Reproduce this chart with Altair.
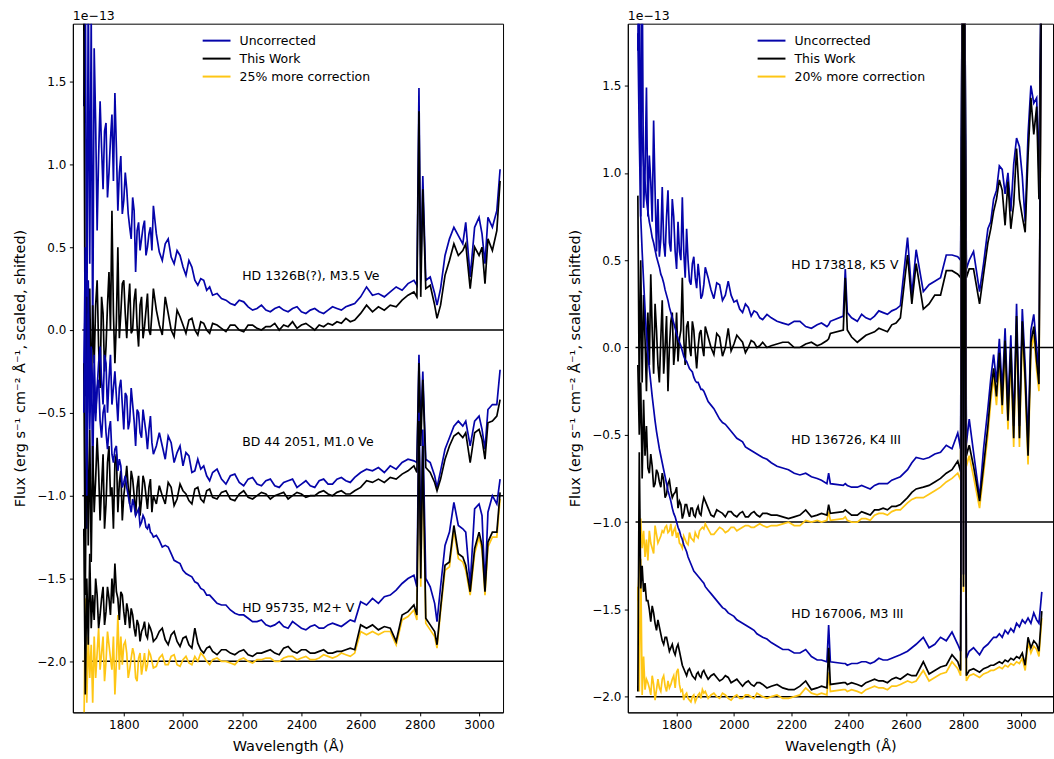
import altair as alt
import pandas as pd

# ---------------- Left panel (M dwarfs) ----------------
LX = [1665, 1670, 1675, 1680, 1685, 1690, 1695, 1700,
      1710, 1720, 1730, 1740, 1750, 1760, 1770, 1780, 1790, 1800,
      1810, 1820, 1830, 1840, 1850, 1860, 1870, 1880, 1890, 1900,
      1920, 1940, 1960, 1980, 2000, 2020, 2040, 2060, 2080, 2100,
      2130, 2160, 2190, 2220, 2250, 2280, 2310, 2340, 2370, 2400,
      2430, 2460, 2490, 2520, 2550, 2580, 2600, 2620, 2640, 2660,
      2680, 2700, 2720, 2740, 2760, 2780, 2790, 2797, 2803, 2810,
      2820, 2835, 2850, 2858, 2870, 2885, 2900, 2915, 2930, 2945,
      2955, 2970, 2985, 3000, 3010, 3020, 3030, 3045, 3060, 3071]
# extra in-between wavelengths for the noisy blue end
LXE = [1705, 1715, 1725, 1735, 1745, 1755, 1765, 1775, 1785, 1795,
       1805, 1815, 1825, 1835, 1845, 1855, 1865, 1875, 1885, 1895,
       1910, 1930, 1950, 1970, 1990, 2010, 2030, 2050, 2070, 2090,
       2115, 2145, 2175, 2205, 2235, 2265, 2295, 2325, 2355, 2385,
       2415, 2445, 2475, 2505, 2535, 2565]

L1_UNC = [1.35, 2.2, -0.2, 2.1, 0.4, 1.9, -0.1, 1.70,
          0.6, 1.38, 0.85, 1.25, 0.95, 1.30, 1.43, 0.72, 1.05, 0.78,
          0.85, 0.62, 0.80, 0.35, 0.65, 0.55, 0.66, 0.50, 0.62, 0.75,
          0.47, 0.52, 0.44, 0.48, 0.38, 0.42, 0.30, 0.31, 0.24, 0.21,
          0.19, 0.16, 0.18, 0.14, 0.13, 0.12, 0.13, 0.12, 0.13, 0.11,
          0.12, 0.11, 0.12, 0.13, 0.14, 0.16, 0.20, 0.26, 0.21, 0.22,
          0.20, 0.23, 0.26, 0.24, 0.28, 0.30, 0.27, 1.46, 0.30, 0.93,
          0.30, 0.32, 0.22, 0.15, 0.25, 0.45, 0.55, 0.62, 0.57, 0.52,
          0.65, 0.32, 0.62, 0.68, 0.58, 0.40, 0.68, 0.62, 0.72, 0.97]
L1_UNC_E = [1.25, 1.05, 1.10, 1.20, 0.80, 1.15, 0.90, 1.10, 0.95, 0.70,
            0.95, 0.70, 0.55, 0.72, 0.60, 0.48, 0.62, 0.45, 0.58, 0.48,
            0.58, 0.42, 0.55, 0.40, 0.45, 0.33, 0.38, 0.27, 0.30, 0.26,
            0.22, 0.18, 0.15, 0.17, 0.12, 0.15, 0.11, 0.14, 0.11, 0.14,
            0.10, 0.13, 0.10, 0.14, 0.12, 0.15]
L1_WORK = [1.9, -0.4, 0.2, -0.3, 0.25, -0.45, 0.15, -0.2,
           0.3, -0.35, 0.1, -0.1, 0.35, 0.72, -0.2, 0.5, 0.1, 0.3,
           -0.05, 0.28, 0.0, 0.25, -0.1, 0.2, 0.02, 0.22, -0.03, 0.25,
           0.03, 0.2, 0.0, 0.12, 0.03, 0.06, 0.0, 0.05, 0.0, 0.04,
           0.01, 0.03, 0.0, 0.03, 0.01, 0.02, 0.04, 0.03, 0.05, 0.03,
           0.02, 0.03, 0.04, 0.05, 0.07, 0.06, 0.10, 0.15, 0.11, 0.14,
           0.12, 0.15, 0.14, 0.18, 0.21, 0.23, 0.20, 1.32, 0.20, 0.85,
           0.25, 0.27, 0.15, 0.07, 0.15, 0.33, 0.42, 0.52, 0.45, 0.48,
           0.52, 0.25, 0.50, 0.45, 0.50, 0.28, 0.55, 0.48, 0.60, 0.90]
L1_WORK_E = [0.15, -0.1, 0.2, -0.25, 0.15, 0.0, 0.1, 0.05, -0.05, 0.28,
             0.1, 0.15, -0.02, 0.18, 0.02, 0.15, -0.05, 0.12, 0.0, 0.1,
             0.12, -0.03, 0.1, -0.04, 0.08, -0.02, 0.07, -0.03, 0.04, -0.02,
             0.03, -0.01, 0.03, -0.01, 0.03, 0.0, 0.02, 0.0, 0.02, 0.01,
             0.04, 0.0, 0.02, 0.03, 0.04, 0.05]
L2_UNC = [-0.3, 0.5, -1.2, 0.3, -0.5, -0.1, -0.9, -0.15,
          -0.35, -0.1, -0.45, -0.2, -0.3, -0.45, -0.25, -0.55, -0.3, -0.6,
          -0.4, -0.55, -0.45, -0.7, -0.5, -0.65, -0.55, -0.72, -0.52, -0.75,
          -0.62, -0.78, -0.68, -0.74, -0.82, -0.76, -0.85, -0.84, -0.88, -0.86,
          -0.90, -0.88, -0.92, -0.90, -0.93, -0.91, -0.94, -0.92, -0.90, -0.93,
          -0.94, -0.91, -0.93, -0.90, -0.91, -0.89, -0.86, -0.84, -0.85, -0.83,
          -0.86, -0.82, -0.84, -0.80, -0.78, -0.79, -0.80, -0.15, -0.6, -0.25,
          -0.78, -0.80, -0.88, -0.95, -0.85, -0.72, -0.65, -0.58, -0.55, -0.58,
          -0.55, -0.70, -0.55, -0.52, -0.60, -0.72, -0.48, -0.45, -0.45, -0.24]
L2_UNC_E = [-0.5, -0.2, -0.3, -0.15, -0.5, -0.15, -0.35, -0.4, -0.35, -0.45,
            -0.38, -0.6, -0.35, -0.55, -0.48, -0.62, -0.48, -0.62, -0.6, -0.68,
            -0.70, -0.70, -0.64, -0.80, -0.70, -0.74, -0.86, -0.78, -0.82, -0.91,
            -0.84, -0.93, -0.87, -0.94, -0.89, -0.94, -0.90, -0.95, -0.91, -0.95,
            -0.91, -0.95, -0.90, -0.93, -0.89, -0.92]
L2_WORK = [-0.2, -1.6, -0.4, -1.3, -0.6, -1.4, -0.7, -1.1,
           -0.65, -1.15, -0.75, -1.05, -0.7, -0.95, -0.8, -1.1, -0.85, -1.0,
           -0.82, -1.05, -0.9, -1.12, -0.88, -1.02, -0.92, -1.08, -0.9, -1.0,
           -0.94, -1.05, -0.95, -1.02, -0.97, -1.03, -0.96, -1.02, -0.97, -1.01,
           -0.98, -1.02, -0.99, -1.01, -1.0, -0.99, -1.0, -0.98, -1.0, -0.99,
           -1.0, -0.98, -0.99, -0.98, -0.99, -0.97, -0.95, -0.91, -0.92, -0.90,
           -0.92, -0.89, -0.90, -0.87, -0.85, -0.82, -0.86, -0.2, -0.7, -0.3,
           -0.83, -0.86, -0.92, -0.97, -0.90, -0.78, -0.70, -0.64, -0.62, -0.65,
           -0.62, -0.80, -0.62, -0.60, -0.66, -0.78, -0.56, -0.55, -0.52, -0.42]
L2_WORK_E = [-0.9, -0.85, -0.95, -1.2, -0.8, -1.0, -1.2, -0.75, -0.92, -1.15,
             -0.92, -0.95, -0.85, -1.0, -0.95, -1.12, -0.88, -1.0, -0.95, -1.1,
             -1.05, -1.0, -0.92, -1.06, -0.93, -0.99, -1.05, -0.95, -1.04, -0.96,
             -1.02, -0.97, -1.03, -0.97, -1.02, -0.98, -1.02, -0.99, -1.02, -0.98,
             -1.01, -1.0, -0.97, -1.0, -0.97, -0.99]
L3_UNC = [-0.5, 0.3, -1.0, 0.1, -0.6, -0.2, -0.3, -0.45,
          -0.35, -0.55, -0.5, -0.62, -0.6, -0.75, -0.72, -0.85, -0.82, -0.92,
          -0.95, -1.05, -1.02, -1.12, -1.08, -1.16, -1.14, -1.20, -1.22, -1.25,
          -1.27, -1.30, -1.35, -1.40, -1.45, -1.48, -1.52, -1.56, -1.60, -1.62,
          -1.66, -1.69, -1.72, -1.74, -1.76, -1.78, -1.78, -1.79, -1.76, -1.80,
          -1.79, -1.80, -1.78, -1.78, -1.77, -1.76, -1.64, -1.66, -1.62, -1.65,
          -1.61, -1.60, -1.57, -1.53, -1.50, -1.48, -1.55, -0.5, -1.3, -0.6,
          -1.50, -1.55, -1.65, -1.76, -1.55, -1.30, -1.22, -1.04, -1.18, -1.20,
          -1.22, -1.54, -1.08, -1.05, -1.12, -1.55, -1.10, -1.00, -1.05, -0.90]
L3_UNC_E = [-0.55, -0.3, -0.65, -0.45, -0.72, -0.55, -0.8, -0.7, -0.78, -0.95,
            -0.88, -1.0, -1.1, -1.06, -1.1, -1.18, -1.12, -1.19, -1.17, -1.23,
            -1.24, -1.31, -1.31, -1.39, -1.41, -1.47, -1.49, -1.53, -1.57, -1.60,
            -1.65, -1.66, -1.71, -1.72, -1.76, -1.75, -1.79, -1.76, -1.80, -1.78,
            -1.81, -1.78, -1.80, -1.77, -1.79, -1.75]
L3_WORK = [-1.2, -2.2, -1.5, -1.9, -1.35, -1.8, -1.6, -1.75,
           -1.6, -1.72, -1.55, -1.70, -1.62, -1.50, -1.41, -1.62, -1.58, -1.70,
           -1.65, -1.80, -1.72, -1.85, -1.78, -1.82, -1.76, -1.86, -1.80, -1.88,
           -1.82, -1.87, -1.84, -1.88, -1.86, -1.90, -1.80, -1.93, -1.92, -1.94,
           -1.93, -1.95, -1.94, -1.96, -1.95, -1.94, -1.95, -1.92, -1.94, -1.93,
           -1.95, -1.94, -1.95, -1.94, -1.93, -1.93, -1.78, -1.80, -1.78, -1.81,
           -1.79, -1.80, -1.88, -1.72, -1.70, -1.66, -1.72, -0.55, -1.5, -0.7,
           -1.74, -1.78, -1.82, -1.90, -1.68, -1.42, -1.40, -1.18, -1.35, -1.37,
           -1.42, -1.58, -1.32, -1.22, -1.30, -1.58, -1.28, -1.22, -1.22, -0.98]
L3_WORK_E = [-1.5, -1.8, -1.62, -1.78, -1.55, -1.72, -1.65, -1.58, -1.75, -1.6,
             -1.78, -1.70, -1.68, -1.80, -1.75, -1.88, -1.80, -1.84, -1.78, -1.83,
             -1.86, -1.80, -1.90, -1.82, -1.91, -1.85, -1.92, -1.89, -1.95, -1.91,
             -1.96, -1.93, -1.96, -1.93, -1.97, -1.95, -1.93, -1.96, -1.91, -1.95,
             -1.93, -1.95, -1.93, -1.95, -1.94, -1.92]
L3_MORE = [-2.5, -1.62, -2.25, -1.85, -2.1, -1.9, -2.25, -1.85,
           -1.95, -2.05, -1.85, -2.0, -1.9, -2.05, -2.2, -1.72, -1.85, -1.9,
           -1.95, -2.05, -1.92, -2.1, -1.98, -2.08, -1.95, -2.02, -1.96, -2.04,
           -1.98, -2.02, -1.97, -2.02, -1.99, -2.01, -1.97, -1.95, -2.0, -1.99,
           -2.0, -2.01, -1.99, -2.0, -1.99, -1.98, -2.0, -1.98, -1.97, -1.98,
           -1.99, -1.98, -1.97, -1.97, -1.96, -1.95, -1.82, -1.84, -1.82, -1.84,
           -1.82, -1.82, -1.90, -1.75, -1.73, -1.69, -1.75, -0.6, -1.55, -0.75,
           -1.77, -1.81, -1.85, -1.92, -1.70, -1.45, -1.43, -1.21, -1.38, -1.40,
           -1.45, -1.60, -1.35, -1.25, -1.33, -1.60, -1.31, -1.25, -1.25, -1.02]
L3_MORE_E = [-2.1, -1.8, -1.95, -2.12, -1.82, -1.98, -1.85, -2.0, -2.05, -2.02,
             -1.88, -2.1, -1.98, -1.96, -2.12, -1.95, -2.02, -2.06, -1.94, -2.0,
             -2.03, -1.96, -2.02, -1.96, -2.03, -1.97, -2.02, -2.0, -1.97, -2.02,
             -1.98, -2.0, -2.02, -1.98, -2.01, -1.99, -1.98, -2.0, -1.97, -1.99,
             -1.97, -1.99, -1.96, -1.98, -1.95, -1.97]

# ---------------- Right panel (K/M giants) ----------------
RX = [1665, 1670, 1675, 1680, 1685, 1690, 1695, 1700,
      1710, 1720, 1730, 1740, 1750, 1760, 1770, 1780, 1790, 1800,
      1810, 1820, 1830, 1840, 1850, 1860, 1870, 1880, 1890, 1900,
      1920, 1940, 1960, 1980, 2000, 2020, 2040, 2060, 2080, 2100,
      2130, 2170, 2210, 2250, 2290, 2324, 2330, 2336, 2381, 2388,
      2395, 2430, 2460, 2490, 2520, 2550, 2580, 2605, 2620, 2635,
      2660, 2680, 2700, 2720, 2740, 2760, 2780, 2790, 2797, 2800,
      2803, 2810, 2820, 2835, 2856, 2870, 2885, 2895, 2905, 2915,
      2925, 2935, 2945, 2955, 2965, 2975, 2985, 2995, 3005, 3015,
      3025, 3035, 3045, 3055, 3063, 3073]
RXE = [1705, 1715, 1725, 1735, 1745, 1755, 1765, 1775, 1785, 1795,
       1805, 1815, 1825, 1835, 1845, 1855, 1865, 1875, 1885, 1895,
       1910, 1930, 1950, 1970, 1990, 2010, 2030, 2050, 2070, 2090,
       2115, 2150, 2190, 2230, 2270, 2305,
       2410, 2445, 2475, 2505, 2535, 2565]

R1_UNC = [1.7, 2.3, 0.75, 2.2, 0.8, 1.0, 1.49, 0.75,
          0.95, 1.30, 0.55, 0.52, 0.92, 0.52, 0.9, 0.55, 0.75, 0.45,
          0.55, 0.86, 0.40, 0.50, 0.36, 0.52, 0.34, 0.40, 0.30, 0.46,
          0.33, 0.37, 0.27, 0.38, 0.26, 0.22, 0.25, 0.18, 0.20, 0.16,
          0.17, 0.14, 0.15, 0.12, 0.13, 0.12, 0.13, 0.15, 0.18, 0.45,
          0.20, 0.15, 0.17, 0.18, 0.20, 0.21, 0.24, 0.63, 0.30, 0.56,
          0.32, 0.36, 0.38, 0.40, 0.53, 0.53, 0.52, 0.50, 2.5, 1.14,
          2.5, 0.45, 0.50, 0.55, 0.32, 0.48, 0.68, 0.72, 0.85, 0.90,
          1.04, 1.02, 0.88, 1.00, 0.78, 1.05, 1.20, 1.15, 0.98, 0.72,
          1.22, 1.50, 1.40, 1.43, 1.00, 2.5]
R1_UNC_E = [1.1, 0.72, 0.9, 0.85, 0.62, 0.6, 0.75, 0.6, 0.85, 0.55,
            0.72, 0.5, 0.55, 0.68, 0.38, 0.48, 0.40, 0.48, 0.28, 0.36,
            0.40, 0.28, 0.36, 0.30, 0.30, 0.27, 0.20, 0.23, 0.21, 0.17,
            0.19, 0.15, 0.13, 0.15, 0.11, 0.14,
            0.17, 0.19, 0.16, 0.21, 0.19, 0.22]
R1_WORK = [0.87, -0.3, 0.5, -0.2, 0.3, 0.05, -0.25, 0.2,
           0.42, -0.15, 0.1, -0.2, 0.27, 0.0, -0.25, 0.15, -0.1, 0.2,
           0.05, 0.40, -0.1, 0.15, -0.05, 0.1, -0.12, 0.08, 0.0, 0.12,
           0.0, 0.08, -0.05, 0.11, 0.02, 0.05, -0.03, 0.04, 0.0, 0.03,
           0.01, 0.03, 0.0, 0.02, 0.01, 0.04, 0.05, 0.08, 0.10, 0.40,
           0.10, 0.03, 0.07, 0.09, 0.10, 0.13, 0.17, 0.53, 0.25, 0.48,
           0.22, 0.25, 0.30, 0.30, 0.44, 0.44, 0.42, 0.40, 2.5, 1.14,
           2.5, 0.40, 0.45, 0.45, 0.25, 0.42, 0.60, 0.68, 0.78, 0.85,
           0.96, 0.90, 0.70, 0.95, 0.68, 0.82, 1.14, 0.85, 0.75, 0.66,
           1.10, 1.43, 1.22, 1.38, 0.85, 2.5]
R1_WORK_E = [-0.1, 0.1, 0.25, -0.1, 0.05, -0.15, 0.18, 0.0, 0.2, 0.0,
             -0.08, 0.1, 0.05, 0.12, 0.0, 0.15, -0.02, 0.0, 0.1, -0.05,
             0.06, -0.04, 0.06, 0.0, -0.02, 0.07, 0.03, 0.0, 0.03, 0.01,
             0.0, 0.02, 0.03, 0.0, 0.03, 0.02,
             0.06, 0.05, 0.08, 0.11, 0.09, 0.14]
R2_UNC = [2.0, 1.6, 1.35, 1.2, 1.05, 0.95, 0.85, 0.78,
          0.68, 0.60, 0.52, 0.46, 0.40, 0.33, 0.27, 0.20, 0.14, 0.08,
          0.03, -0.02, -0.07, -0.10, -0.13, -0.17, -0.20, -0.22, -0.24, -0.27,
          -0.33, -0.38, -0.43, -0.46, -0.50, -0.53, -0.57, -0.59, -0.61, -0.63,
          -0.66, -0.69, -0.72, -0.72, -0.75, -0.78, -0.72, -0.78, -0.79, -0.78,
          -0.79, -0.80, -0.80, -0.79, -0.78, -0.76, -0.74, -0.70, -0.66, -0.63,
          -0.64, -0.63, -0.61, -0.60, -0.56, -0.58, -0.49, -0.58, 2.5, -0.3,
          2.5, -0.55, -0.41, -0.60, -0.86, -0.58, -0.35, -0.18, -0.04, -0.20,
          0.05, -0.25, 0.11, -0.35, 0.07, -0.45, 0.25, -0.45, 0.22, -0.10,
          -0.55, 0.10, 0.19, 0.0, -0.15, 2.5]
R2_UNC_E = [0.72, 0.63, 0.56, 0.49, 0.42, 0.37, 0.30, 0.23, 0.17, 0.11,
            0.05, 0.01, -0.05, -0.08, -0.12, -0.14, -0.19, -0.20, -0.24, -0.25,
            -0.31, -0.35, -0.41, -0.44, -0.48, -0.52, -0.54, -0.58, -0.60, -0.62,
            -0.64, -0.68, -0.70, -0.73, -0.74, -0.76,
            -0.80, -0.79, -0.81, -0.78, -0.78, -0.75]
R2_WORK = [-0.1, -0.5, -0.2, -0.75, -0.3, -0.62, -0.45, -0.69,
           -0.61, -0.80, -0.70, -0.77, -0.72, -0.86, -0.78, -0.82, -0.84, -0.80,
           -0.88, -0.98, -0.90, -0.94, -0.92, -0.96, -0.93, -0.95, -0.90, -0.88,
           -0.96, -0.93, -0.95, -0.94, -0.96, -0.95, -0.97, -0.95, -0.96, -0.95,
           -0.96, -0.97, -0.97, -0.93, -0.96, -0.96, -0.90, -0.95, -0.94, -0.93,
           -0.94, -0.96, -0.95, -0.93, -0.92, -0.91, -0.90, -0.86, -0.83, -0.81,
           -0.80, -0.79, -0.77, -0.75, -0.72, -0.70, -0.65, -0.71, 2.5, -0.4,
           2.5, -0.62, -0.56, -0.68, -0.88, -0.68, -0.45, -0.26, -0.12, -0.28,
           -0.03, -0.33, 0.04, -0.42, 0.0, -0.52, 0.18, -0.52, 0.15, -0.18,
           -0.62, 0.03, 0.12, -0.08, -0.21, 2.5]
R2_WORK_E = [-0.72, -0.68, -0.78, -0.72, -0.80, -0.76, -0.84, -0.76, -0.86, -0.83,
             -0.92, -0.90, -0.95, -0.90, -0.97, -0.92, -0.97, -0.91, -0.96, -0.86,
             -0.92, -0.97, -0.94, -0.97, -0.94, -0.97, -0.94, -0.97, -0.94, -0.97,
             -0.95, -0.96, -0.98, -0.96, -0.97, -0.95,
             -0.96, -0.94, -0.96, -0.93, -0.93, -0.91]
R2_MORE = [-1.45, -1.25, -0.98, -1.15, -1.05, -1.20, -1.10, -1.22,
           -1.12, -1.18, -1.07, -1.10, -1.05, -1.03, -1.06, -1.01, -1.05, -1.09,
           -1.12, -1.15, -1.10, -1.13, -1.09, -1.11, -1.08, -1.05, -1.03, -1.01,
           -1.07, -1.05, -1.04, -1.05, -1.03, -1.04, -1.02, -1.03, -1.02, -1.02,
           -1.02, -1.01, -1.02, -0.99, -0.99, -0.99, -0.94, -0.99, -0.98, -0.97,
           -0.99, -1.0, -0.98, -0.96, -0.95, -0.94, -0.93, -0.89, -0.87, -0.86,
           -0.86, -0.84, -0.82, -0.80, -0.77, -0.75, -0.72, -0.76, 2.5, -0.45,
           2.5, -0.68, -0.62, -0.74, -0.92, -0.72, -0.50, -0.31, -0.17, -0.33,
           -0.08, -0.38, -0.01, -0.47, -0.05, -0.57, 0.13, -0.57, 0.10, -0.23,
           -0.67, -0.02, 0.07, -0.13, -0.25, 2.5]
R2_MORE_E = [-1.05, -1.15, -1.02, -1.12, -1.08, -1.06, -1.02, -1.05, -1.08, -1.03,
             -1.06, -1.13, -1.08, -1.12, -1.06, -1.10, -1.06, -1.09, -1.04, -1.04,
             -1.04, -1.07, -1.03, -1.06, -1.03, -1.05, -1.03, -1.02, -1.03, -1.01,
             -1.03, -1.02, -1.00, -1.02, -1.00, -1.00,
             -1.00, -0.98, -0.99, -0.95, -0.96, -0.93]
R3_UNC = [1.8, 1.2, 0.75, 0.55, 0.38, 0.22, 0.08, -0.04,
          -0.2, -0.35, -0.48, -0.58, -0.66, -0.74, -0.82, -0.88, -0.95, -1.0,
          -1.05, -1.10, -1.15, -1.20, -1.24, -1.28, -1.30, -1.32, -1.34, -1.37,
          -1.41, -1.45, -1.49, -1.52, -1.54, -1.57, -1.59, -1.61, -1.64, -1.66,
          -1.69, -1.73, -1.75, -1.73, -1.79, -1.80, -1.59, -1.80, -1.81, -1.81,
          -1.82, -1.81, -1.80, -1.80, -1.79, -1.78, -1.76, -1.74, -1.72, -1.70,
          -1.66, -1.72, -1.70, -1.66, -1.68, -1.63, -1.70, -1.74, 2.5, -1.3,
          2.5, -1.78, -1.74, -1.72, -1.76, -1.72, -1.70, -1.68, -1.66, -1.66,
          -1.64, -1.66, -1.62, -1.64, -1.61, -1.63, -1.58, -1.60, -1.56, -1.58,
          -1.55, -1.58, -1.52, -1.56, -1.58, -1.40]
R3_UNC_E = [-0.12, -0.28, -0.42, -0.53, -0.62, -0.70, -0.78, -0.85, -0.92, -0.97,
            -1.03, -1.08, -1.13, -1.17, -1.22, -1.26, -1.29, -1.31, -1.33, -1.35,
            -1.39, -1.43, -1.47, -1.50, -1.53, -1.56, -1.58, -1.60, -1.62, -1.65,
            -1.67, -1.71, -1.73, -1.75, -1.77, -1.79,
            -1.81, -1.80, -1.81, -1.78, -1.79, -1.77]
R3_WORK = [-1.97, -0.6, -1.38, -1.25, -1.40, -1.35, -1.45, -1.45,
           -1.57, -1.52, -1.62, -1.60, -1.68, -1.66, -1.70, -1.72, -1.74, -1.72,
           -1.74, -1.82, -1.86, -1.85, -1.86, -1.89, -1.87, -1.88, -1.86, -1.87,
           -1.88, -1.89, -1.90, -1.89, -1.91, -1.92, -1.92, -1.93, -1.92, -1.93,
           -1.94, -1.95, -1.96, -1.91, -1.95, -1.95, -1.72, -1.93, -1.92, -1.92,
           -1.93, -1.93, -1.92, -1.90, -1.91, -1.90, -1.90, -1.87, -1.88, -1.88,
           -1.80, -1.87, -1.85, -1.83, -1.82, -1.76, -1.80, -1.85, 2.5, -1.37,
           2.5, -1.88, -1.85, -1.84, -1.86, -1.84, -1.83, -1.82, -1.82, -1.81,
           -1.80, -1.81, -1.79, -1.80, -1.78, -1.79, -1.77, -1.78, -1.75, -1.82,
           -1.66, -1.72, -1.68, -1.70, -1.74, -1.51]
R3_WORK_E = [-1.50, -1.48, -1.58, -1.56, -1.64, -1.70, -1.66, -1.74, -1.70, -1.76,
             -1.70, -1.78, -1.84, -1.88, -1.84, -1.88, -1.90, -1.86, -1.89, -1.85,
             -1.90, -1.87, -1.91, -1.88, -1.92, -1.90, -1.94, -1.91, -1.94, -1.92,
             -1.95, -1.93, -1.96, -1.94, -1.96, -1.94,
             -1.92, -1.94, -1.91, -1.91, -1.92, -1.89]
R3_MORE = [-1.37, -1.97, -1.21, -1.99, -1.77, -1.96, -1.90, -1.92,
           -1.99, -1.93, -1.96, -1.95, -1.90, -1.94, -1.91, -1.93, -1.88, -1.86,
           -1.93, -1.96, -1.99, -2.01, -2.03, -1.99, -2.01, -1.98, -1.96, -1.97,
           -1.99, -2.00, -1.98, -2.01, -2.00, -2.01, -1.99, -2.00, -1.98, -2.00,
           -2.00, -2.01, -2.00, -1.95, -1.99, -1.99, -1.86, -1.97, -1.96, -1.96,
           -1.97, -1.97, -1.96, -1.94, -1.95, -1.94, -1.93, -1.91, -1.92, -1.91,
           -1.85, -1.91, -1.89, -1.87, -1.86, -1.80, -1.84, -1.88, 2.5, -1.40,
           2.5, -1.91, -1.88, -1.87, -1.89, -1.87, -1.86, -1.85, -1.85, -1.84,
           -1.83, -1.84, -1.82, -1.83, -1.81, -1.82, -1.80, -1.81, -1.78, -1.85,
           -1.69, -1.75, -1.71, -1.73, -1.77, -1.55]
R3_MORE_E = [-1.95, -1.88, -2.02, -1.90, -1.97, -1.88, -1.97, -1.95, -1.90, -1.95,
             -1.84, -1.97, -2.02, -1.98, -2.02, -2.00, -2.03, -1.99, -2.01, -1.98,
             -2.01, -1.98, -2.01, -1.99, -2.02, -1.99, -2.01, -1.99, -2.01, -1.99,
             -2.01, -1.99, -2.01, -1.99, -1.98, -1.98,
             -1.96, -1.98, -1.95, -1.95, -1.96, -1.94]

# ---------------- Labels / annotations ----------------
LEFT_NAMES = ["HD 1326B(?), M3.5 Ve", "BD 44 2051, M1.0 Ve", "HD 95735, M2+ V"]
LEFT_NAME_Y = [0.3, -0.7, -1.7]
RIGHT_NAMES = ["HD 173818, K5 V", "HD 136726, K4 III", "HD 167006, M3 III"]
RIGHT_NAME_Y = [0.45, -0.55, -1.55]
NAME_X = 2200
LEVELS = [0.0, -1.0, -2.0]
KINDS_LEFT = ["Uncorrected", "This Work", "25% more correction"]
KINDS_RIGHT = ["Uncorrected", "This Work", "20% more correction"]
COLORS = ["#0504aa", "#000000", "#fec615"]
XTICKS = [1800, 2000, 2200, 2400, 2600, 2800, 3000]
YTICKS = [-2.0, -1.5, -1.0, -0.5, 0.0, 0.5, 1.0, 1.5]
YTITLE = "Flux (erg s\u207b\u00b9 cm\u207b\u00b2 \u00c5\u207b\u00b9, scaled, shifted)"
XTITLE = "Wavelength (\u00c5)"
FONT = "DejaVu Sans"


def panel(xs, xe, stars, xdom, ydom, width, kinds, rule_x0, names, name_y):
    xscale = alt.Scale(domain=xdom, nice=False, zero=False)
    yscale = alt.Scale(domain=ydom, nice=False, zero=False)
    cscale = alt.Scale(domain=kinds, range=COLORS)
    xaxis = alt.Axis(values=XTICKS, format="d", title=XTITLE)
    yaxis = alt.Axis(values=YTICKS, format=".1f", title=YTITLE)
    legend = alt.Legend(title=None, orient="none", legendX=134, legendY=7,
                        symbolType="M-1.55,0L1.55,0", symbolSize=324,
                        symbolStrokeWidth=2, labelFontSize=12.5, labelFont=FONT,
                        labelColor="black", labelOffset=13, rowPadding=1,
                        padding=0)
    layers = []
    rules = pd.DataFrame({"level": LEVELS, "x0": rule_x0, "x1": 3400})
    layers.append(
        alt.Chart(rules).mark_rule(clip=True, color="black", strokeWidth=1.5).encode(
            x=alt.X("x0:Q", scale=xscale, axis=xaxis),
            x2="x1:Q",
            y=alt.Y("level:Q", scale=yscale, axis=yaxis),
        )
    )
    for star in stars:
        for kind, ys, ye in star:
            d = pd.DataFrame({"wl": list(xs) + list(xe), "flux": list(ys) + list(ye),
                              "kind": kind}).sort_values("wl")
            layers.append(
                alt.Chart(d).mark_line(clip=True, strokeWidth=1.7).encode(
                    x=alt.X("wl:Q", scale=xscale, axis=xaxis),
                    y=alt.Y("flux:Q", scale=yscale, axis=yaxis),
                    color=alt.Color("kind:N", scale=cscale, legend=legend),
                )
            )
    nd = pd.DataFrame({"name": names, "x": NAME_X, "y": name_y})
    layers.append(
        alt.Chart(nd).mark_text(align="left", baseline="alphabetic", fontSize=12.5,
                                font=FONT, color="black").encode(
            x=alt.X("x:Q", scale=xscale, axis=xaxis),
            y=alt.Y("y:Q", scale=yscale, axis=yaxis),
            text="name:N",
        )
    )
    od = pd.DataFrame({"t": ["1e\u221213"]})
    layers.append(
        alt.Chart(od).mark_text(align="left", baseline="alphabetic", fontSize=12.5,
                                font=FONT, color="black").encode(
            x=alt.value(0), y=alt.value(-4), text="t:N"
        )
    )
    return alt.layer(*layers).properties(width=width, height=690)


left = panel(
    LX, LXE,
    [
        [(KINDS_LEFT[0], L1_UNC, L1_UNC_E), (KINDS_LEFT[1], L1_WORK, L1_WORK_E)],
        [(KINDS_LEFT[0], L2_UNC, L2_UNC_E), (KINDS_LEFT[1], L2_WORK, L2_WORK_E)],
        [(KINDS_LEFT[2], L3_MORE, L3_MORE_E), (KINDS_LEFT[0], L3_UNC, L3_UNC_E),
         (KINDS_LEFT[1], L3_WORK, L3_WORK_E)],
    ],
    [1628, 3081], [-2.308, 1.849], 431, KINDS_LEFT, 1660, LEFT_NAMES, LEFT_NAME_Y,
)
right = panel(
    RX, RXE,
    [
        [(KINDS_RIGHT[0], R1_UNC, R1_UNC_E), (KINDS_RIGHT[1], R1_WORK, R1_WORK_E)],
        [(KINDS_RIGHT[2], R2_MORE, R2_MORE_E), (KINDS_RIGHT[0], R2_UNC, R2_UNC_E),
         (KINDS_RIGHT[1], R2_WORK, R2_WORK_E)],
        [(KINDS_RIGHT[2], R3_MORE, R3_MORE_E), (KINDS_RIGHT[0], R3_UNC, R3_UNC_E),
         (KINDS_RIGHT[1], R3_WORK, R3_WORK_E)],
    ],
    [1630, 3112], [-2.09, 1.855], 426, KINDS_RIGHT, 1657, RIGHT_NAMES, RIGHT_NAME_Y,
)

chart = (
    alt.hconcat(left, right, spacing=125, bounds="flush")
    .resolve_scale(x="independent", y="independent", color="independent")
    .resolve_legend(color="independent")
    .properties(padding={"left": 12, "top": 8, "right": 0, "bottom": 4})
    .configure(font=FONT)
    .configure_view(stroke="black", strokeWidth=1)
    .configure_axis(
        labelFont=FONT, titleFont=FONT, labelFontSize=12, titleFontSize=14.5,
        labelColor="black", titleColor="black", titleFontWeight="normal",
        domainColor="black", domainWidth=1, tickColor="black", tickWidth=1,
        tickSize=3.5, labelPadding=3.5, grid=False,
    )
    .configure_axisX(titlePadding=9)
    .configure_axisY(titlePadding=9)
)

chart.save("out.html", embed_options={"renderer": "svg", "actions": False})
